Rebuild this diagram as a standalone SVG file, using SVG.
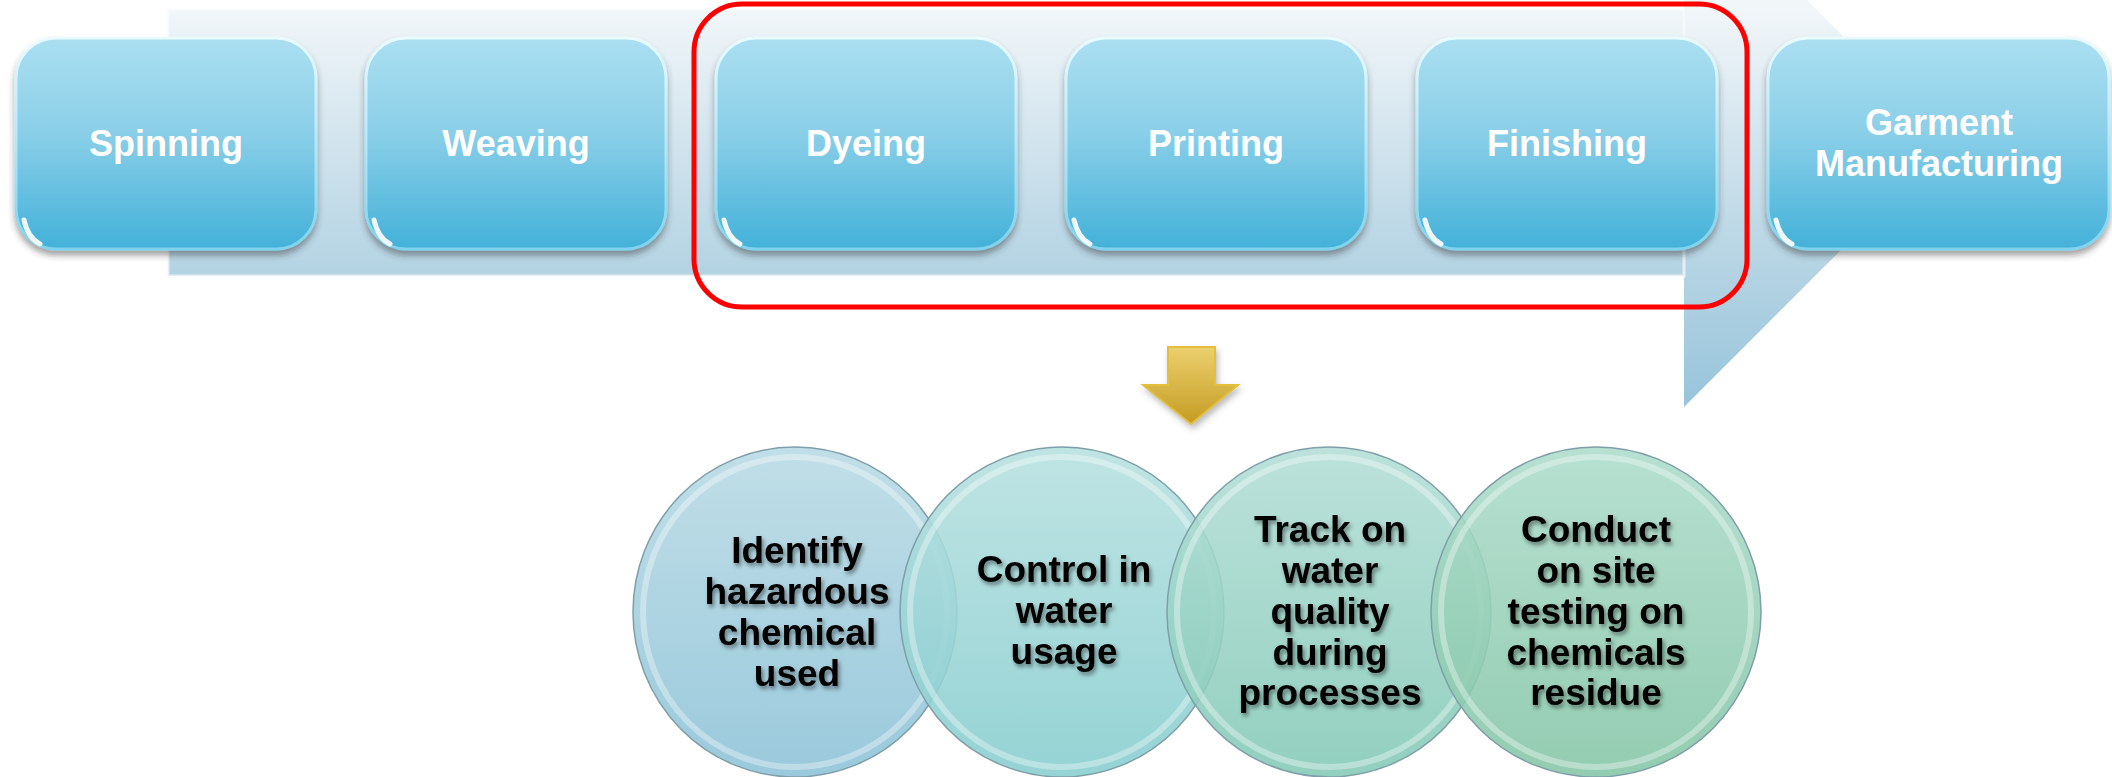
<svg xmlns="http://www.w3.org/2000/svg" width="2112" height="777" viewBox="0 0 2112 777">
<defs>
<linearGradient id="bgArrow" gradientUnits="userSpaceOnUse" x1="0" y1="10" x2="0" y2="407">
<stop offset="0" stop-color="#f1f6f9"/>
<stop offset="0.6" stop-color="#b9d6e5"/>
<stop offset="1" stop-color="#97c4da"/>
</linearGradient>
<linearGradient id="boxFill" x1="0" y1="0" x2="0" y2="1">
<stop offset="0" stop-color="#abdff1"/>
<stop offset="0.45" stop-color="#8acfe8"/>
<stop offset="1" stop-color="#43b1d9"/>
</linearGradient>
<linearGradient id="boxEdge" x1="0" y1="0" x2="0" y2="1">
<stop offset="0" stop-color="#e9fbff"/>
<stop offset="1" stop-color="#7fd3ee"/>
</linearGradient>
<linearGradient id="gold" x1="0" y1="0" x2="0" y2="1">
<stop offset="0" stop-color="#ecd06e"/>
<stop offset="1" stop-color="#c49c22"/>
</linearGradient>
<linearGradient id="c1" x1="0" y1="0" x2="0" y2="1">
<stop offset="0" stop-color="#b8dae4"/>
<stop offset="1" stop-color="#8cc2d7"/>
</linearGradient>
<linearGradient id="c2" x1="0" y1="0" x2="0" y2="1">
<stop offset="0" stop-color="#b7e0e0"/>
<stop offset="1" stop-color="#86cdce"/>
</linearGradient>
<linearGradient id="c3" x1="0" y1="0" x2="0" y2="1">
<stop offset="0" stop-color="#b3ded6"/>
<stop offset="1" stop-color="#83c9b5"/>
</linearGradient>
<linearGradient id="c4" x1="0" y1="0" x2="0" y2="1">
<stop offset="0" stop-color="#addccb"/>
<stop offset="1" stop-color="#84c5a6"/>
</linearGradient>
<filter id="shadow" x="-10%" y="-10%" width="120%" height="130%">
<feDropShadow dx="0" dy="5" stdDeviation="3" flood-color="#333" flood-opacity="0.45"/>
</filter>
<filter id="softShadow" x="-20%" y="-20%" width="140%" height="150%">
<feDropShadow dx="2" dy="4" stdDeviation="3" flood-color="#555" flood-opacity="0.4"/>
</filter>
<filter id="txtShadow" x="-10%" y="-20%" width="120%" height="150%">
<feDropShadow dx="2" dy="3" stdDeviation="2" flood-color="#000" flood-opacity="0.45"/>
</filter>
<filter id="blur2"><feGaussianBlur stdDeviation="2"/></filter>
</defs>
<style>
.box{fill:url(#boxFill);stroke:url(#boxEdge);stroke-width:3;filter:url(#shadow)}
.hl{fill:none;stroke:#ffffff;stroke-width:6;stroke-linecap:round;opacity:0.85;filter:url(#blur2)}
.glint{fill:none;stroke:#ffffff;stroke-width:5;stroke-linecap:round;opacity:0.9}
.btxt{font-family:"Liberation Sans",Arial,sans-serif;font-weight:bold;font-size:36px;fill:#ffffff;text-anchor:middle}
.circ{stroke:#7f9fa8;stroke-width:1.5;fill-opacity:0.88}
.rim{fill:none;stroke:#ffffff;stroke-width:6;opacity:0.35}
.ctxt{font-family:"Liberation Sans",Arial,sans-serif;font-weight:bold;font-size:37px;fill:#000000;text-anchor:middle;filter:url(#txtShadow)}
</style>
<rect width="2112" height="777" fill="#ffffff"/>
<g id="process-arrow">
<path d="M168,10 H1684 V-123 L1949,142 L1684,407 V276 H168 Z" fill="url(#bgArrow)"/>
<rect x="168" y="10" width="1516" height="266" fill="none" stroke="#f8fbfc" stroke-width="3" opacity="0.7"/>
</g>
<g id="node-spinning">
<rect class="box" x="16" y="38" width="300" height="211" rx="40"/>
<path class="hl" d="M52,48 H280"/>
<path class="glint" d="M24,220 Q28,238 40,244"/>
<text class="btxt" x="166" y="156">Spinning</text>
</g>
<g id="node-weaving">
<rect class="box" x="366" y="38" width="300" height="211" rx="40"/>
<path class="hl" d="M402,48 H630"/>
<path class="glint" d="M374,220 Q378,238 390,244"/>
<text class="btxt" x="516" y="156">Weaving</text>
</g>
<g id="node-dyeing">
<rect class="box" x="716" y="38" width="300" height="211" rx="40"/>
<path class="hl" d="M752,48 H980"/>
<path class="glint" d="M724,220 Q728,238 740,244"/>
<text class="btxt" x="866" y="156">Dyeing</text>
</g>
<g id="node-printing">
<rect class="box" x="1066" y="38" width="300" height="211" rx="40"/>
<path class="hl" d="M1102,48 H1330"/>
<path class="glint" d="M1074,220 Q1078,238 1090,244"/>
<text class="btxt" x="1216" y="156">Printing</text>
</g>
<g id="node-finishing">
<rect class="box" x="1417" y="38" width="300" height="211" rx="40"/>
<path class="hl" d="M1453,48 H1681"/>
<path class="glint" d="M1425,220 Q1429,238 1441,244"/>
<text class="btxt" x="1567" y="156">Finishing</text>
</g>
<g id="node-garment">
<rect class="box" x="1768" y="38" width="341" height="211" rx="40"/>
<path class="hl" d="M1804,48 H2072"/>
<path class="glint" d="M1776,220 Q1780,238 1792,244"/>
<text class="btxt" x="1939" y="135">Garment</text>
<text class="btxt" x="1939" y="176">Manufacturing</text>
</g>
<g id="highlight-frame">
<rect x="694" y="4" width="1053" height="303" rx="48" fill="none" stroke="#ff0000" stroke-width="5"/>
</g>
<g id="connectors">
<polygon points="1168,347 1215,347 1215,385 1238,385 1191,424 1143,385 1168,385" fill="url(#gold)" stroke="#e3bf3e" stroke-width="2" filter="url(#softShadow)"/>
</g>
<g id="node-identify">
<ellipse class="circ" cx="795" cy="612" rx="162" ry="165" fill="url(#c1)"/>
<ellipse class="rim" cx="795" cy="612" rx="152" ry="155"/>
<text class="ctxt" x="797" y="563">Identify</text>
<text class="ctxt" x="797" y="604">hazardous</text>
<text class="ctxt" x="797" y="645">chemical</text>
<text class="ctxt" x="797" y="686">used</text>
</g>
<g id="node-control">
<ellipse class="circ" cx="1062" cy="612" rx="162" ry="165" fill="url(#c2)"/>
<ellipse class="rim" cx="1062" cy="612" rx="152" ry="155"/>
<text class="ctxt" x="1064" y="582">Control in</text>
<text class="ctxt" x="1064" y="623">water</text>
<text class="ctxt" x="1064" y="664">usage</text>
</g>
<g id="node-track">
<ellipse class="circ" cx="1329" cy="612" rx="162" ry="165" fill="url(#c3)"/>
<ellipse class="rim" cx="1329" cy="612" rx="152" ry="155"/>
<text class="ctxt" x="1330" y="542">Track on</text>
<text class="ctxt" x="1330" y="583">water</text>
<text class="ctxt" x="1330" y="624">quality</text>
<text class="ctxt" x="1330" y="665">during</text>
<text class="ctxt" x="1330" y="705">processes</text>
</g>
<g id="node-conduct">
<ellipse class="circ" cx="1596" cy="612" rx="165" ry="165" fill="url(#c4)"/>
<ellipse class="rim" cx="1596" cy="612" rx="155" ry="155"/>
<text class="ctxt" x="1596" y="542">Conduct</text>
<text class="ctxt" x="1596" y="583">on site</text>
<text class="ctxt" x="1596" y="624">testing on</text>
<text class="ctxt" x="1596" y="665">chemicals</text>
<text class="ctxt" x="1596" y="705">residue</text>
</g>
</svg>
